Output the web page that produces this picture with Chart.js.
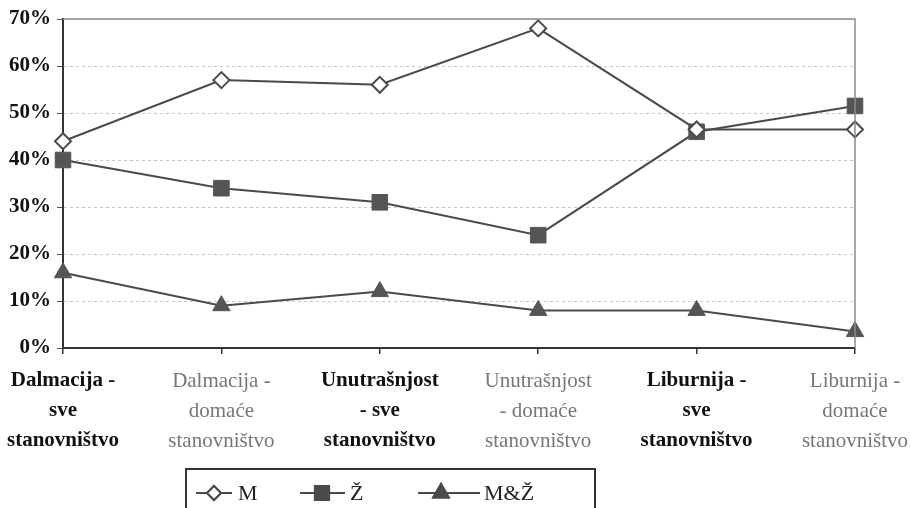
<!DOCTYPE html>
<html>
<head>
<meta charset="utf-8">
<script src="https://cdn.jsdelivr.net/npm/chart.js@4.4.1/dist/chart.umd.min.js"></script>
<style>
  html, body { margin: 0; padding: 0; background: #fff; }
  #wrap { width: 910px; height: 508px; position: relative; }
</style>
</head>
<body>
<div id="wrap"><canvas id="c" width="910" height="508"></canvas></div>
<script>
const categories = [
  ["Dalmacija -", "sve", "stanovništvo"],
  ["Dalmacija -", "domaće", "stanovništvo"],
  ["Unutrašnjost", "- sve", "stanovništvo"],
  ["Unutrašnjost", "- domaće", "stanovništvo"],
  ["Liburnija -", "sve", "stanovništvo"],
  ["Liburnija -", "domaće", "stanovništvo"]
];
const seriesNames = ["M", "Ž", "M&Ž"];
const seriesM  = [44, 57, 56, 68, 46.5, 46.5];
const seriesZ  = [40, 34, 31, 24, 46, 51.5];
const seriesMZ = [16, 9, 12, 8, 8, 3.5];
const yMin = 0, yMax = 70, yStep = 10;

const LINE = '#4a4a4a';

const frameAndLegend = {
  id: 'frameAndLegend',
  afterDraw(chart) {
    const ctx = chart.ctx, a = chart.chartArea;
    ctx.save();
    ctx.strokeStyle = '#8a8a8a';
    ctx.lineWidth = 1.5;
    ctx.beginPath();
    ctx.moveTo(a.left, a.top);
    ctx.lineTo(a.right, a.top);
    ctx.lineTo(a.right, a.bottom);
    ctx.stroke();

    const bx = 186, by = 469, bw = 409, bh = 50;
    ctx.strokeStyle = '#333';
    ctx.lineWidth = 2;
    ctx.strokeRect(bx, by, bw, bh);
    const cy = 493;
    const items = [
      {x0: 196, x1: 232, mx: 214, tx: 238, style: 'rectRot', fill: '#fff', r: 7},
      {x0: 300, x1: 345, mx: 322, tx: 350, style: 'rect', fill: LINE, r: 10},
      {x0: 418, x1: 480, mx: 441, tx: 484, style: 'triangle', fill: LINE, r: 9}
    ];
    items.forEach((it, i) => {
      ctx.strokeStyle = LINE;
      ctx.lineWidth = 2;
      ctx.beginPath();
      ctx.moveTo(it.x0, cy);
      ctx.lineTo(it.x1, cy);
      ctx.stroke();
      ctx.fillStyle = it.fill;
      Chart.helpers.drawPoint(ctx, {pointStyle: it.style, radius: it.r, borderWidth: 2}, it.mx, cy);
      ctx.fill();
      ctx.stroke();
      ctx.fillStyle = '#222';
      ctx.font = '22px "Liberation Serif"';
      ctx.textAlign = 'left';
      ctx.textBaseline = 'middle';
      ctx.fillText(seriesNames[i], it.tx, cy + 1);
    });
    ctx.restore();
  }
};

new Chart(document.getElementById('c'), {
  type: 'line',
  data: {
    labels: categories,
    datasets: [
      { label: seriesNames[0], data: seriesM, borderColor: LINE, borderWidth: 2,
        pointStyle: 'rectRot', pointRadius: 8, pointBackgroundColor: '#fff',
        pointBorderColor: LINE, pointBorderWidth: 2, tension: 0 },
      { label: seriesNames[1], data: seriesZ, borderColor: LINE, borderWidth: 2,
        pointStyle: 'rect', pointRadius: 11, pointBackgroundColor: '#555',
        pointBorderColor: '#555', pointBorderWidth: 1, tension: 0 },
      { label: seriesNames[2], data: seriesMZ, borderColor: LINE, borderWidth: 2,
        pointStyle: 'triangle', pointRadius: 10, pointBackgroundColor: '#555',
        pointBorderColor: '#555', pointBorderWidth: 1, tension: 0 }
    ]
  },
  options: {
    responsive: false,
    animation: false,
    layout: { padding: { top: 19, right: 55, left: 0, bottom: 0 } },
    plugins: { legend: { display: false }, tooltip: { enabled: false } },
    scales: {
      x: {
        offset: false,
        grid: { display: true, drawOnChartArea: false, drawTicks: true, tickLength: 6, color: '#333', lineWidth: 1.5 },
        border: { display: true, color: '#333', width: 2 },
        ticks: {
          autoSkip: false, maxRotation: 0, minRotation: 0, padding: 12,
          color: (c) => (c.index % 2 === 0 ? '#111' : '#777'),
          font: (c) => ({ family: '"Liberation Serif"', size: 21, lineHeight: 1.43,
                          weight: c.index % 2 === 0 ? 'bold' : 'normal' })
        },
        afterFit(scale) { scale.height = 160; scale.paddingLeft = 0; scale.paddingRight = 0; }
      },
      y: {
        min: yMin, max: yMax,
        grid: { color: '#c8c8c8', lineWidth: 1, drawTicks: true, tickLength: 6,
                tickColor: '#555', tickBorderDash: [] },
        border: { display: true, color: '#333', width: 2, dash: [3, 3] },
        ticks: {
          stepSize: yStep, padding: 6, color: '#111',
          font: { family: '"Liberation Serif"', size: 21, weight: 'bold' },
          callback: (v) => v + '%'
        },
        afterFit(scale) { scale.width = 63; scale.paddingTop = 0; scale.paddingBottom = 0; }
      }
    }
  },
  plugins: [frameAndLegend]
});
</script>
</body>
</html>
